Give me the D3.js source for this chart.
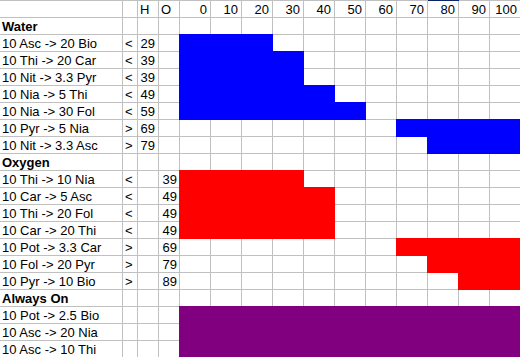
<!DOCTYPE html>
<html>
<head>
<meta charset="utf-8">
<script src="https://cdn.jsdelivr.net/npm/d3@7"></script>
<style>
  body { margin: 0; background: #fff; }
  svg { display: block; font-family: "Liberation Sans", Arial, sans-serif; font-size: 13px; }
</style>
</head>
<body>
<svg id="chart" width="520" height="357"></svg>
<script>
// column ticks across the top
const ticks = [0, 10, 20, 30, 40, 50, 60, 70, 80, 90, 100];

// Water group (threshold in column H)
const waterLabels = ["10 Asc -> 20 Bio", "10 Thi -> 20 Car", "10 Nit -> 3.3 Pyr", "10 Nia -> 5 Thi",
                     "10 Nia -> 30 Fol", "10 Pyr -> 5 Nia", "10 Nit -> 3.3 Asc"];
const waterOps = ["<", "<", "<", "<", "<", ">", ">"];
const waterH = [29, 39, 39, 49, 59, 69, 79];

// Oxygen group (threshold in column O)
const oxygenLabels = ["10 Thi -> 10 Nia", "10 Car -> 5 Asc", "10 Thi -> 20 Fol", "10 Car -> 20 Thi",
                      "10 Pot -> 3.3 Car", "10 Fol -> 20 Pyr", "10 Pyr -> 10 Bio"];
const oxygenOps = ["<", "<", "<", "<", ">", ">", ">"];
const oxygenO = [39, 49, 49, 49, 69, 79, 89];

// Always On group (no threshold, always filled)
const alwaysLabels = ["10 Pot -> 2.5 Bio", "10 Asc -> 20 Nia", "10 Asc -> 10 Thi"];

// build the row list: header, then each group title followed by its rows
let rows = [{type: "header"}];
rows.push({type: "group", name: "Water"});
waterLabels.forEach((l, i) => rows.push({type: "row", label: l, op: waterOps[i], h: waterH[i], color: "#0000ff"}));
rows.push({type: "group", name: "Oxygen"});
oxygenLabels.forEach((l, i) => rows.push({type: "row", label: l, op: oxygenOps[i], o: oxygenO[i], color: "#ff0000"}));
rows.push({type: "group", name: "Always On"});
alwaysLabels.forEach(l => rows.push({type: "row", label: l, op: "", always: true, color: "#800080"}));

const W = 520, H = 357;
const svg = d3.select("#chart");
const grid = "#c0c0c0";

// spreadsheet columns on the left
const colA = 0, colB = 122, colC = 137, colD = 158, colE = 179;

const x = d3.scaleBand().domain(ticks).range([colE, W]).padding(0);
const y = d3.scaleBand().domain(d3.range(rows.length)).range([0, H]).padding(0);
const bw = x.bandwidth();

// gridlines
const gl = svg.append("g");
d3.range(rows.length).forEach(i => {
    gl.append("rect").attr("x", 0).attr("y", y(i)).attr("width", W).attr("height", 1).attr("fill", grid);
});
[colB, colC, colD, colE].concat(ticks.slice(1).map(t => x(t))).forEach(px => {
    gl.append("rect").attr("x", px).attr("y", 0).attr("width", 1).attr("height", H).attr("fill", grid);
});

// which columns are switched on for a row
const isOn = (d, t) => {
    if (d.always) return true;
    const v = d.h !== undefined ? d.h : d.o;
    return d.op === "<" ? t < v : t > v;
};

// bars
const dataRows = rows.map((d, i) => Object.assign({i: i}, d)).filter(d => d.type === "row");
svg.append("g").selectAll("rect")
    .data(dataRows)
    .join("rect")
    .each(function(d) {
        const on = ticks.filter(t => isOn(d, t));
        const x0 = x(on[0]), x1 = x(on[on.length - 1]) + bw + 1;
        d3.select(this)
            .attr("x", x0).attr("y", y(d.i))
            .attr("width", x1 - x0).attr("height", y.bandwidth() + 1)
            .attr("fill", d.color);
    });

// header texts
const hdr = svg.append("g");
hdr.append("text").attr("x", colC + 3).attr("y", y(0) + 14).text("H");
hdr.append("text").attr("x", colD + 3).attr("y", y(0) + 14).text("O");
hdr.selectAll(".tick")
    .data(ticks)
    .join("text")
    .attr("class", "tick")
    .attr("x", t => x(t) + bw - 3)
    .attr("y", y(0) + 14)
    .attr("text-anchor", "end")
    .text(t => t);

// row texts
const rt = svg.append("g");
rows.forEach((d, i) => {
    const by = y(i) + 14;
    if (d.type === "group") {
        rt.append("text").attr("x", colA + 2).attr("y", by).attr("font-weight", "bold").text(d.name);
    } else if (d.type === "row") {
        rt.append("text").attr("x", colA + 2).attr("y", by).text(d.label);
        if (d.op) rt.append("text").attr("x", colB + 3).attr("y", by).text(d.op);
        if (d.h !== undefined) rt.append("text").attr("x", colD - 3).attr("y", by).attr("text-anchor", "end").text(d.h);
        if (d.o !== undefined) rt.append("text").attr("x", colE - 2).attr("y", by).attr("text-anchor", "end").text(d.o);
    }
});

// small selection marker at the top of the "80" column
svg.append("rect").attr("x", x(80) + 1).attr("y", 0).attr("width", bw).attr("height", 1).attr("fill", "#0a246a");
</script>
</body>
</html>
